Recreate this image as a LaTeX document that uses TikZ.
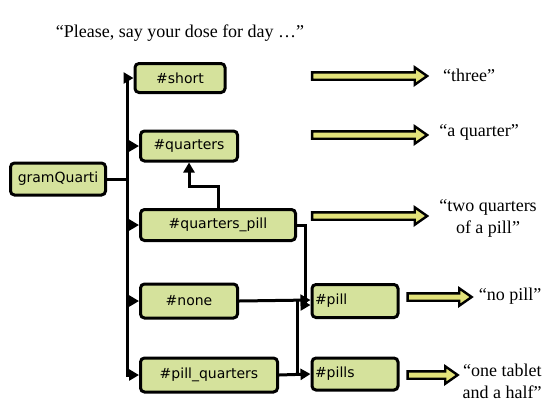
\documentclass[tikz,border=0pt]{standalone}
\usepackage{fontspec}
\setmainfont{Liberation Serif}
\newfontfamily\boxfont{DejaVu Sans}
\usetikzlibrary{shapes.arrows,arrows.meta}
\definecolor{boxgreen}{HTML}{D5E29C}
\definecolor{arrowyel}{HTML}{E2E27A}
\tikzset{
  x=1pt, y=-1pt,
  gbox/.style={draw=black, line width=3pt, rounded corners=4pt, fill=boxgreen,
    font=\boxfont\fontsize{14}{16}\selectfont, inner sep=2pt},
  conn/.style={line width=3pt, -{Triangle[length=10pt,width=11pt]}},
  plain/.style={line width=3pt},
  bigarrow/.style={single arrow, draw=black, line width=2.4pt, fill=arrowyel,
    single arrow head extend=5pt, single arrow tip angle=70,
    inner xsep=0pt, inner ysep=2.5pt,
    minimum height=#1, shape border rotate=0},
  said/.style={font=\fontsize{18}{22}\selectfont, align=center},
}
\begin{document}
\begin{tikzpicture}
\useasboundingbox (0,0) rectangle (548,408);
\node[font=\fontsize{18}{20}\selectfont] (title) at (180,33) {``Please, say your dose for day \ldots''};

\node[gbox, minimum width=95pt, minimum height=32pt] (gq) at (58,179) {gramQuarti};
\node[gbox, minimum width=90pt, minimum height=29pt] (short) at (180,78) {\#short};
\node[gbox, minimum width=97pt, minimum height=30pt] (quarters) at (189,146) {\#quarters};
\node[gbox, minimum width=155pt, minimum height=31pt] (qp) at (218,225) {\#quarters\_pill};
\node[gbox, minimum width=97pt, minimum height=34pt] (none) at (189,301) {\#none};
\node[gbox, minimum width=137pt, minimum height=34pt] (pq) at (209,375) {\#pill\_quarters};
\node[gbox, minimum width=86pt, minimum height=33pt, text width=80pt, align=left] (pill) at (355,301) {\#pill};
\node[gbox, minimum width=86pt, minimum height=32pt, text width=80pt, align=left] (pills) at (355,374) {\#pills};

% trunk
\coordinate (tj) at (127,179);
\draw[plain] (gq.east) -- (tj);
\draw[conn] (tj) |- (short.west);
\draw[conn] (tj) |- (quarters.west);
\draw[conn] (tj) |- (qp.west);
\draw[conn] (tj) |- (none.west);
\draw[conn] (tj) |- (pq.west);

% quarters_pill to quarters
\coordinate (qpup) at (218,186);
\draw[conn] (qp.north) -- (qpup) -| (quarters.south);

% to pill / pills
\coordinate (qpr) at (305,225);
\draw[conn] (qp.east) -- (qpr) |- ([yshift=-4pt]pill.west);
\draw[conn] (none.east) -- ([yshift=1pt]pill.west);
\coordinate (nj) at (297,301);
\draw[plain] (nj) -- (297,374);
\draw[conn] (pq.east) -- (pills.west);

% big arrows
\node[bigarrow=115pt] (a1) at (367,76) {};
\node[bigarrow=115pt] (a2) at (367,135) {};
\node[bigarrow=115pt] (a3) at (367,216) {};
\node[bigarrow=64pt] (a4) at (437,297) {};
\node[bigarrow=50pt] (a5) at (430,375) {};

\node[said] (t1) at (469,75) {``three''};
\node[said] (t2) at (479,132) {``a quarter''};
\node[said] (t3) at (488,218) {``two quarters\\of a pill''};
\node[said] (t4) at (510,296) {``no pill''};
\node[said, align=right] (t5) at (502,381) {``one tablet\\and a half''};
\end{tikzpicture}
\end{document}
